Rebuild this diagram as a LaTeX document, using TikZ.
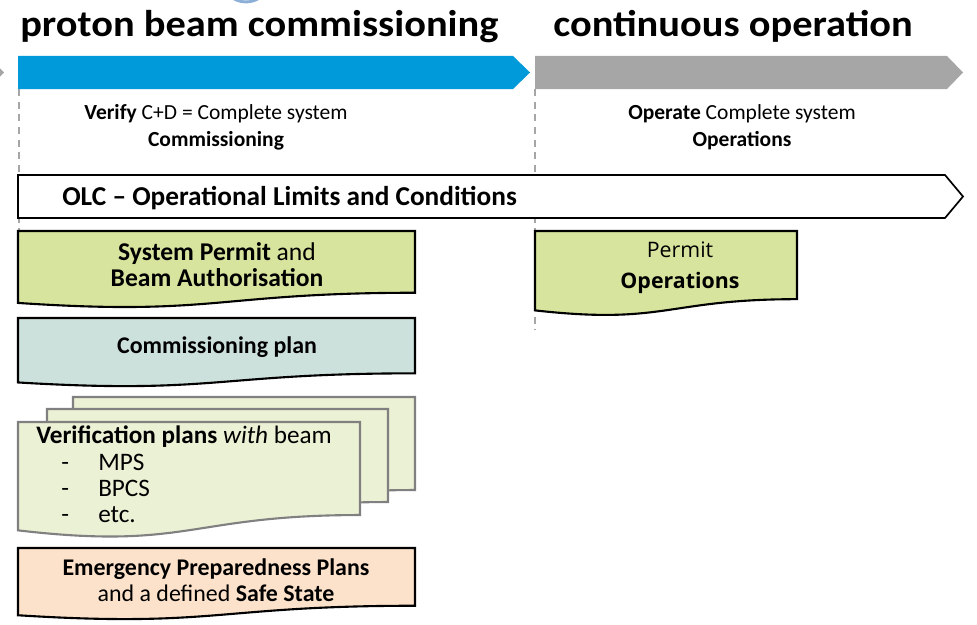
\documentclass[tikz,border=0pt]{standalone}
\usepackage{fontspec}
\setmainfont{Carlito}
\newfontfamily\permitfont{Open Sans}
\usetikzlibrary{positioning, calc}

\definecolor{beamblue}{RGB}{0,153,218}
\definecolor{opgray}{RGB}{166,166,166}
\definecolor{permitgreen}{RGB}{215,228,157}
\definecolor{plangray}{RGB}{204,224,220}
\definecolor{verifygreen}{RGB}{235,241,212}
\definecolor{eppfill}{RGB}{252,226,202}
\definecolor{ringblue}{RGB}{140,175,215}

\tikzset{
  phasetitle/.style={font=\fontsize{26.5}{32}\selectfont\bfseries, anchor=base west, inner sep=0pt},
  phasetext/.style={font=\fontsize{15.3}{19.2}\selectfont, align=center, inner sep=0pt},
  boxtext/.style={font=\fontsize{17}{18.5}\selectfont, align=center, inner sep=0pt},
  listtext/.style={font=\fontsize{17.9}{18.5}\selectfont, anchor=base west, inner sep=0pt},
  docline/.style={draw=black, line width=1.5pt},
  phasedash/.style={draw=opgray, line width=1.5pt, dash pattern=on 5pt off 4pt}
}

% page-like box with a wavy lower edge: style, left, top, right, height
\newcommand{\docbox}[5]{%
  \path[#1] (#2,#3) -- (#4,#3) -- (#4,#3+0.802*#5)
    .. controls ({(#2+#4)/2},#3+0.802*#5) and ({(#2+#4)/2},#3+1.107*#5) .. (#2,#3+0.934*#5) -- cycle;}
% titles are set a little wide
\newcommand{\widetitle}[1]{\scalebox{1.085}[1]{#1}}

\begin{document}
\begin{tikzpicture}[x=0.025cm, y=-0.025cm]
  \useasboundingbox (0,0) rectangle (977,624);

  % phase separators
  \draw[phasedash] (19,89) -- (19,231);
  \draw[phasedash] (535,89) -- (535,330);

  % bits of the neighbouring slide
  \draw[ringblue, line width=2pt, fill=ringblue!40] (246,-23) circle (25);
  \fill[opgray] (-20,56) -- (-12,56) -- (4,72.5) -- (-12,89) -- (-20,89) -- cycle;

  % phase titles
  \node[phasetitle] (commtitle) at (20,37) {\widetitle{proton beam commissioning}};
  \node[phasetitle] (optitle) at (553,37) {\widetitle{continuous operation}};

  % phase arrows
  \fill[beamblue] (18,56) -- (513,56) -- (530,72.5) -- (513,89) -- (18,89) -- cycle;
  \fill[opgray] (535,56) -- (947,56) -- (963,72.5) -- (947,89) -- (535,89) -- cycle;

  \node[phasetext] (commtext) at (216,127.5) {\textbf{Verify} C+D = Complete system\\ \textbf{Commissioning}};
  \node[phasetext] (optext) at (742,127.5) {\textbf{Operate} Complete system\\ \textbf{Operations}};

  % OLC band
  \draw[fill=white, line width=1.2pt] (18,175) -- (945,175) -- (963,196.5) -- (945,218) -- (18,218) -- cycle;
  \node[boxtext, anchor=west, font=\fontsize{19.4}{22}\selectfont] (olc) at (62,198) {\textbf{OLC -- Operational Limits and Conditions}};

  % documents for commissioning
  \docbox{docline, fill=permitgreen}{18}{231}{415}{77}
  \node[boxtext, font=\fontsize{18.2}{18.5}\selectfont] (permit) at (217,265) {\textbf{System Permit} and\\ \textbf{Beam Authorisation}};

  \docbox{docline, fill=plangray}{18}{318}{415}{69}
  \node[boxtext] (plan) at (217,347) {\textbf{Commissioning plan}};

  \docbox{draw=gray, line width=1.5pt, fill=verifygreen}{73}{397}{415}{116}
  \docbox{draw=gray, line width=1.5pt, fill=verifygreen}{47}{409}{388}{116}
  \docbox{draw=gray, line width=1.5pt, fill=verifygreen}{18}{422}{360}{116}
  \node[listtext] (vplans) at (36,443) {\textbf{Verification plans} \textit{with} beam};
  \foreach \item/\ypos [count=\i] in {MPS/470, BPCS/496, etc./522} {
    \node[listtext] (dash\i) at (61,\ypos) {-};
    \node[listtext] (item\i) at (98,\ypos) {\item};
  }

  \docbox{docline, fill=eppfill}{18}{548}{415}{72}
  \node[boxtext] (epp) at (216,580.5) {\textbf{Emergency Preparedness Plans}\\ and a defined \textbf{Safe State}};

  % document for operation
  \docbox{docline, fill=permitgreen}{535}{231}{797}{85}
  \node[boxtext, font=\permitfont\fontsize{15.2}{22}\selectfont] (oppermit) at (680,268) {Permit\\ \textbf{Operations}};
\end{tikzpicture}
\end{document}
